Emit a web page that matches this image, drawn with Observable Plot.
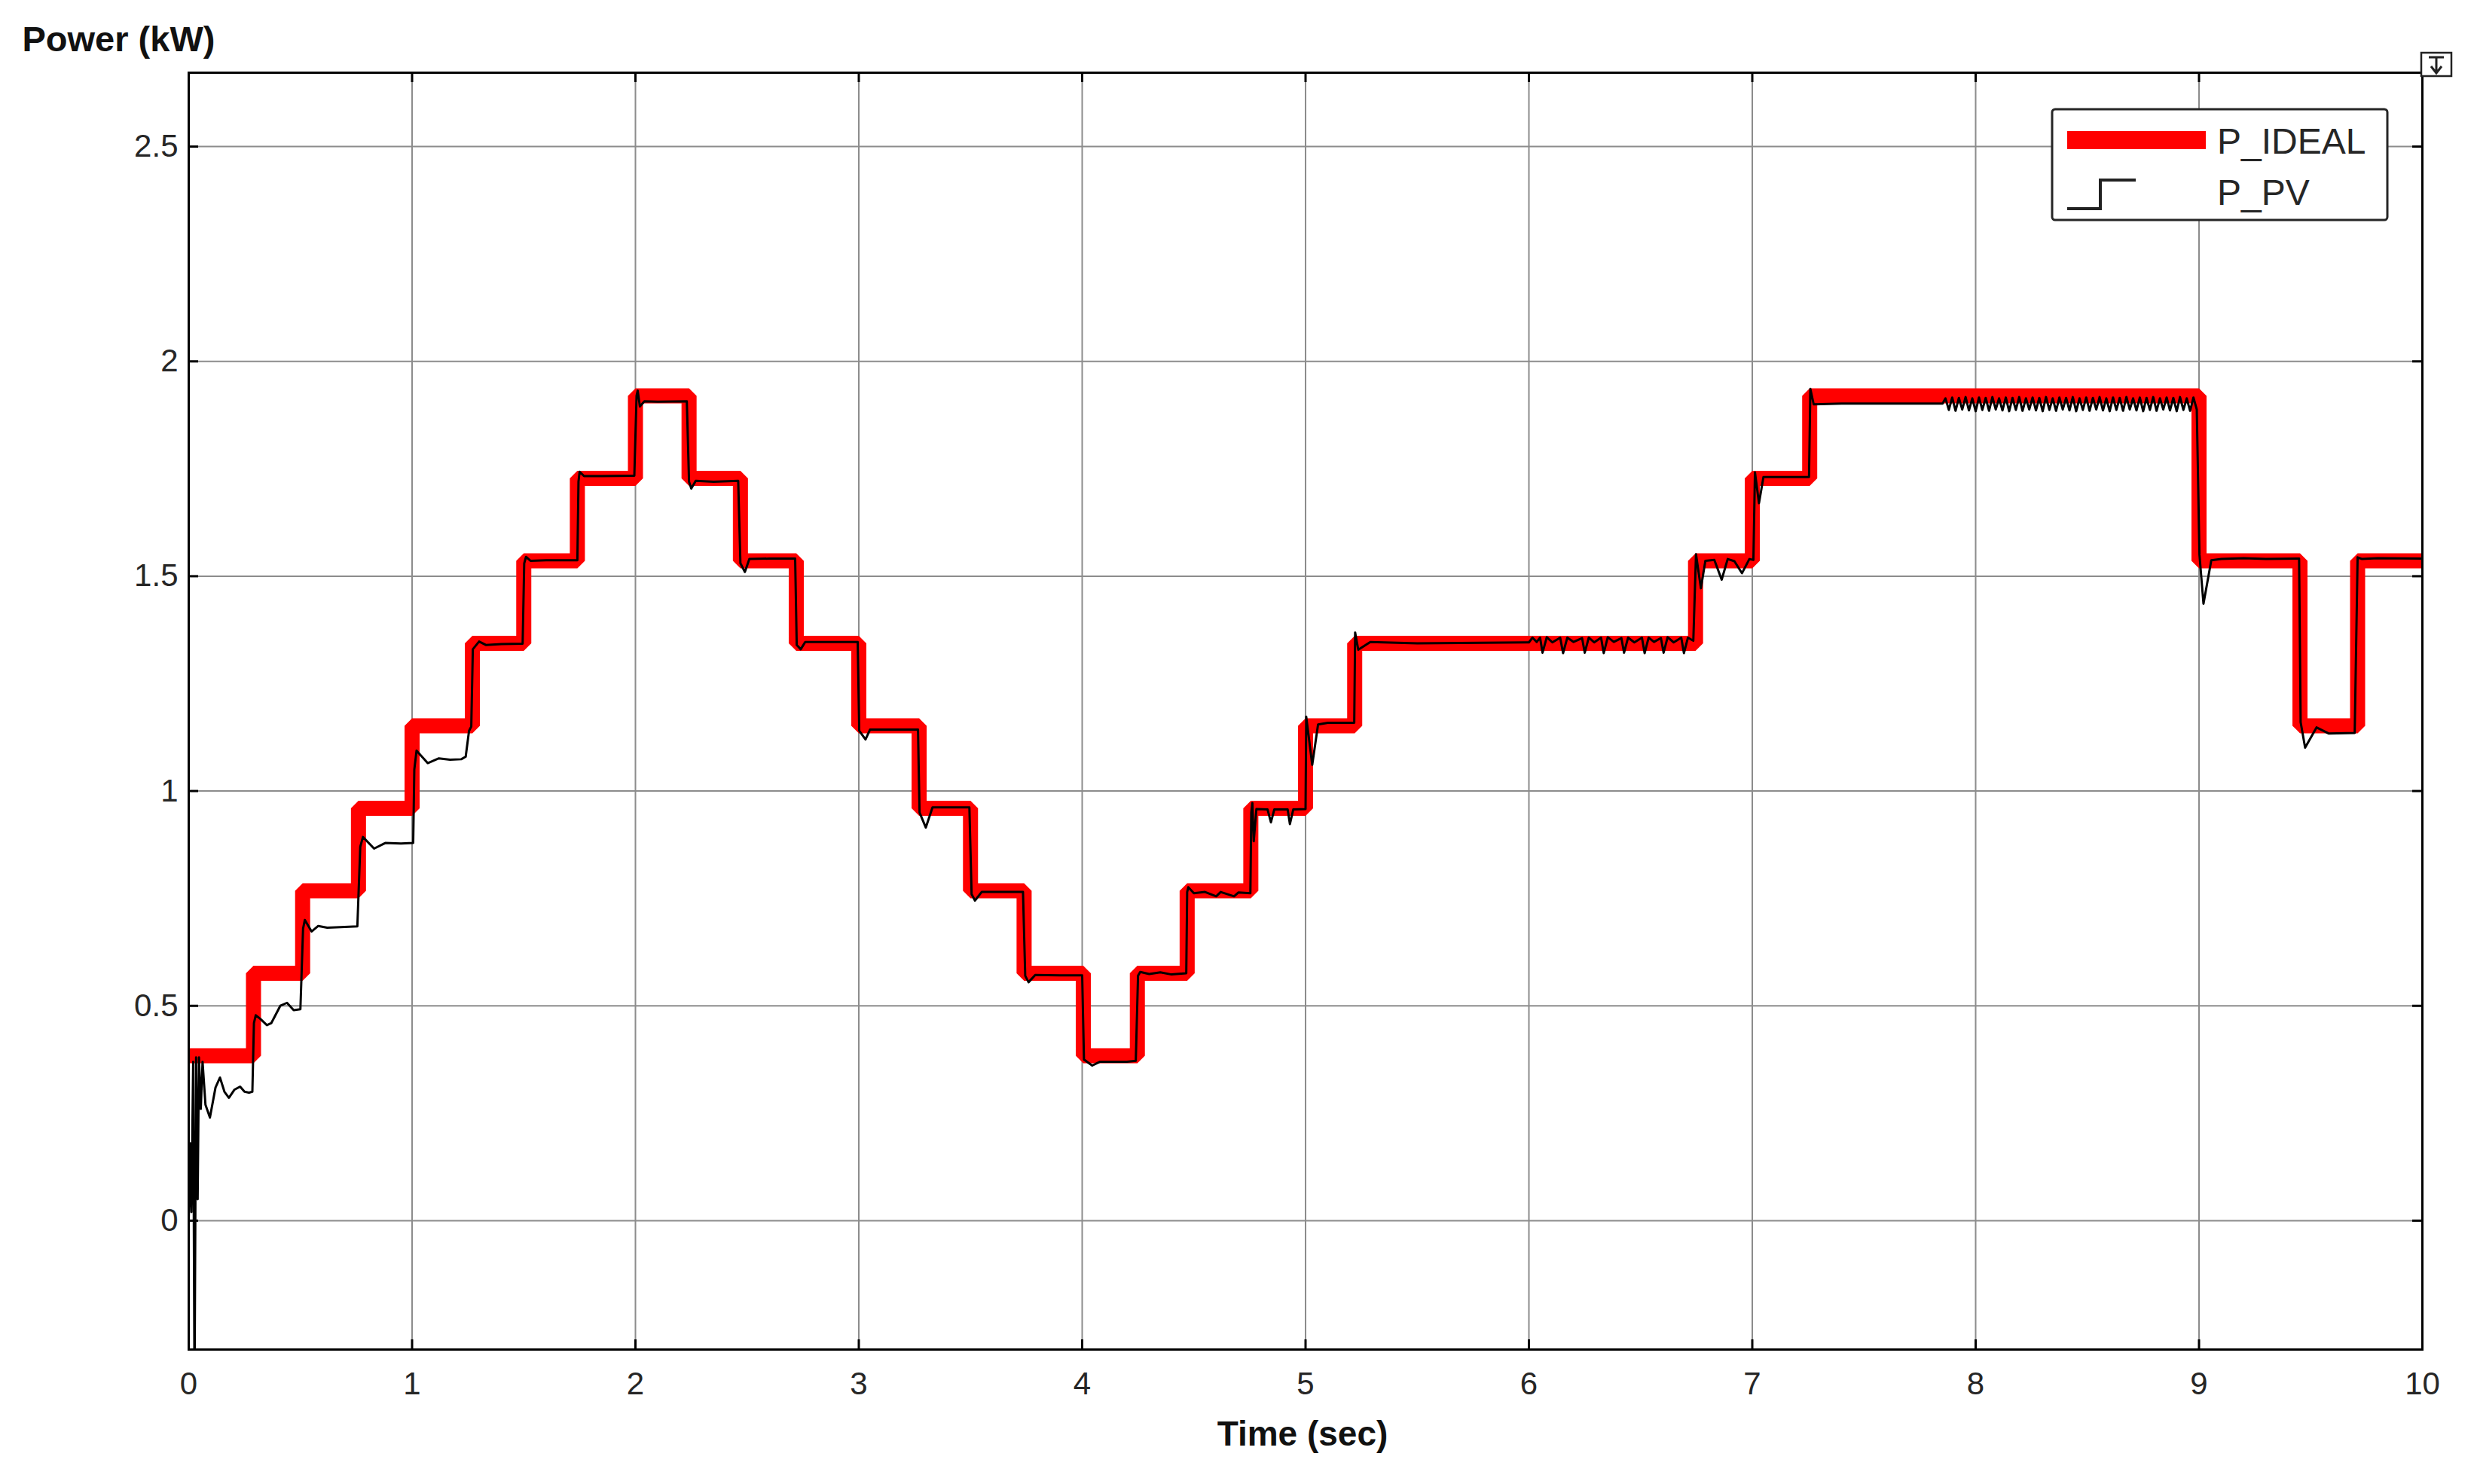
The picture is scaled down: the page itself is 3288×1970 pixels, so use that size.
<!DOCTYPE html>
<html>
<head>
<meta charset="utf-8">
<script src="https://cdn.jsdelivr.net/npm/d3@7"></script>
<script src="https://cdn.jsdelivr.net/npm/@observablehq/plot@0.6"></script>
<style>
html, body { margin: 0; padding: 0; background: #ffffff; }
#chart { width: 3288px; height: 1970px; }
</style>
</head>
<body>
<div id="chart"></div>
<script>
// ---- tick values / labels ----
const xTicks = [0, 1, 2, 3, 4, 5, 6, 7, 8, 9, 10];
const yTicks = [0, 0.5, 1, 1.5, 2, 2.5];
const yTickLabels = ["0", "0.5", "1", "1.5", "2", "2.5"];
const xDomain = [0, 10];
const yDomain = [-0.3, 2.672];

// ---- P_IDEAL : step levels (kW) and the times (s) at which they start ----
const idealTime = [0, 0.29, 0.51, 0.76, 1.0, 1.27, 1.5, 1.74, 2.0, 2.24, 2.47, 2.72, 3.0, 3.27, 3.5, 3.74,
  4.005, 4.247, 4.47, 4.755, 5.0, 5.22, 6.746, 7.0, 7.257, 9.0, 9.452, 9.71, 10];
const idealPower = [0.384, 0.576, 0.768, 0.96, 1.152, 1.344, 1.536, 1.728, 1.92, 1.728, 1.536, 1.344, 1.152, 0.96, 0.768, 0.576,
  0.384, 0.576, 0.768, 0.96, 1.152, 1.344, 1.536, 1.728, 1.92, 1.536, 1.152, 1.536, 1.536];

// ---- P_PV : samples [time (s), power (kW)] ----
const pvSamples = [
  [0.000, 0.00], [0.008, 0.18], [0.012, 0.02], [0.020, 0.37], [0.026, -0.40], [0.033, 0.38], [0.040, 0.05],
  [0.046, 0.38], [0.054, 0.26], [0.062, 0.37], [0.075, 0.27], [0.095, 0.24], [0.120, 0.31], [0.140, 0.333],
  [0.160, 0.300], [0.180, 0.286], [0.205, 0.305], [0.230, 0.312], [0.250, 0.300], [0.270, 0.298], [0.285, 0.300],
  [0.292, 0.46], [0.300, 0.478], [0.320, 0.470], [0.350, 0.455], [0.370, 0.460], [0.410, 0.500], [0.440, 0.507],
  [0.470, 0.490], [0.500, 0.492],
  [0.512, 0.68], [0.520, 0.700], [0.550, 0.673], [0.580, 0.686], [0.620, 0.682], [0.680, 0.683], [0.755, 0.685],
  [0.768, 0.87], [0.780, 0.893], [0.830, 0.866], [0.880, 0.879], [0.950, 0.878], [1.005, 0.879],
  [1.010, 1.05], [1.020, 1.094], [1.070, 1.065], [1.120, 1.076], [1.170, 1.073], [1.220, 1.074], [1.240, 1.080],
  [1.255, 1.140], [1.265, 1.150],
  [1.272, 1.33], [1.300, 1.348], [1.330, 1.340], [1.400, 1.342], [1.495, 1.343],
  [1.502, 1.53], [1.510, 1.545], [1.530, 1.536], [1.600, 1.537], [1.740, 1.537],
  [1.745, 1.72], [1.750, 1.743], [1.770, 1.733], [1.850, 1.733], [1.995, 1.734],
  [2.005, 1.92], [2.010, 1.932], [2.020, 1.895], [2.040, 1.907], [2.100, 1.906], [2.230, 1.907],
  [2.240, 1.72], [2.250, 1.704], [2.270, 1.722], [2.350, 1.720], [2.460, 1.722],
  [2.470, 1.53], [2.490, 1.510], [2.510, 1.540], [2.600, 1.541], [2.715, 1.541],
  [2.722, 1.34], [2.740, 1.330], [2.760, 1.347], [2.900, 1.347], [2.995, 1.347],
  [3.002, 1.14], [3.030, 1.120], [3.050, 1.143], [3.150, 1.143], [3.265, 1.143],
  [3.272, 0.95], [3.300, 0.915], [3.330, 0.962], [3.400, 0.962], [3.495, 0.962],
  [3.505, 0.76], [3.520, 0.745], [3.550, 0.765], [3.650, 0.765], [3.735, 0.765],
  [3.745, 0.57], [3.760, 0.555], [3.790, 0.572], [3.900, 0.571], [4.000, 0.571],
  [4.008, 0.375], [4.045, 0.361], [4.080, 0.370], [4.200, 0.370], [4.240, 0.372],
  [4.250, 0.57], [4.260, 0.579], [4.300, 0.574], [4.350, 0.578], [4.400, 0.573], [4.466, 0.576],
  [4.470, 0.765], [4.475, 0.776], [4.500, 0.762], [4.550, 0.765], [4.600, 0.755], [4.620, 0.765], [4.680, 0.755],
  [4.700, 0.764], [4.753, 0.762],
  [4.757, 0.95], [4.762, 0.972], [4.768, 0.883], [4.780, 0.958], [4.830, 0.957], [4.845, 0.927], [4.860, 0.957],
  [4.920, 0.957], [4.930, 0.923], [4.945, 0.957], [5.000, 0.958],
  [5.003, 1.173], [5.030, 1.061], [5.056, 1.155], [5.100, 1.159], [5.218, 1.159],
  [5.222, 1.369], [5.236, 1.329], [5.290, 1.347], [5.500, 1.344], [5.990, 1.346],
  [6.000, 1.346], [6.016, 1.357], [6.035, 1.347], [6.050, 1.357], [6.061, 1.322],
  [6.080, 1.358], [6.105, 1.346], [6.140, 1.357], [6.153, 1.321],
  [6.172, 1.357], [6.200, 1.347], [6.238, 1.356], [6.250, 1.322],
  [6.268, 1.357], [6.292, 1.346], [6.323, 1.357], [6.335, 1.321],
  [6.353, 1.358], [6.380, 1.347], [6.414, 1.356], [6.426, 1.322],
  [6.444, 1.357], [6.472, 1.346], [6.506, 1.357], [6.518, 1.321],
  [6.536, 1.357], [6.560, 1.347], [6.591, 1.356], [6.603, 1.322],
  [6.621, 1.358], [6.648, 1.346], [6.682, 1.357], [6.694, 1.321],
  [6.712, 1.357], [6.736, 1.350],
  [6.748, 1.551], [6.770, 1.472], [6.790, 1.536], [6.830, 1.538], [6.863, 1.492], [6.890, 1.540], [6.920, 1.535],
  [6.954, 1.507], [6.987, 1.540], [7.005, 1.538],
  [7.012, 1.742], [7.030, 1.670], [7.050, 1.731], [7.150, 1.731], [7.254, 1.731],
  [7.260, 1.936], [7.275, 1.900], [7.400, 1.902], [7.600, 1.902], [7.852, 1.902],
  [7.865, 1.914], [7.880, 1.887], [7.895, 1.916], [7.910, 1.885], [7.925, 1.915], [7.940, 1.888], [7.955, 1.917],
  [7.970, 1.886], [7.985, 1.914], [8.000, 1.884], [8.015, 1.916], [8.030, 1.887], [8.045, 1.915], [8.060, 1.885],
  [8.075, 1.917], [8.090, 1.888], [8.105, 1.914], [8.120, 1.886], [8.135, 1.916], [8.150, 1.884], [8.165, 1.915],
  [8.180, 1.887], [8.195, 1.917], [8.210, 1.885], [8.225, 1.914], [8.240, 1.888], [8.255, 1.916], [8.270, 1.886],
  [8.285, 1.915], [8.300, 1.884], [8.315, 1.917], [8.330, 1.887], [8.345, 1.914], [8.360, 1.885], [8.375, 1.916],
  [8.390, 1.888], [8.405, 1.915], [8.420, 1.886], [8.435, 1.917], [8.450, 1.884], [8.465, 1.914], [8.480, 1.887],
  [8.495, 1.916], [8.510, 1.885], [8.525, 1.915], [8.540, 1.888], [8.555, 1.917], [8.570, 1.886], [8.585, 1.914],
  [8.600, 1.884], [8.615, 1.916], [8.630, 1.887], [8.645, 1.915], [8.660, 1.885], [8.675, 1.917], [8.690, 1.888],
  [8.705, 1.914], [8.720, 1.886], [8.735, 1.916], [8.750, 1.884], [8.765, 1.915], [8.780, 1.887], [8.795, 1.917],
  [8.810, 1.885], [8.825, 1.914], [8.840, 1.888], [8.855, 1.916], [8.870, 1.886], [8.885, 1.915], [8.900, 1.884],
  [8.915, 1.917], [8.930, 1.887], [8.945, 1.914], [8.960, 1.885], [8.975, 1.916], [8.990, 1.888],
  [9.002, 1.55], [9.020, 1.436], [9.055, 1.537], [9.100, 1.540], [9.200, 1.542], [9.300, 1.540], [9.448, 1.541],
  [9.455, 1.16], [9.475, 1.101], [9.526, 1.148], [9.580, 1.134], [9.697, 1.135],
  [9.710, 1.544], [9.730, 1.540], [9.800, 1.542], [10.000, 1.541]
];

// ---- text ----
const yTitle = "Power (kW)";
const xTitle = "Time (sec)";
const legendNames = ["P_IDEAL", "P_PV"];

// ---- build tables ----
const ideal = idealTime.map((t, i) => ({t, p: idealPower[i]}));
const pv = pvSamples.map(([t, p]) => ({t, p}));

const W = 3288, H = 1970;
const mTop = 96, mBottom = 179, mLeft = 250, mRight = 73;
const innerH = H - mTop - mBottom;
const innerW = W - mLeft - mRight;
const tick = 13;
const font = "'Liberation Sans', Arial, Helvetica, sans-serif";
const gridColor = "#8c8c8c";

const chart = Plot.plot({
  width: W,
  height: H,
  marginTop: mTop,
  marginBottom: mBottom,
  marginLeft: mLeft,
  marginRight: mRight,
  style: {background: "#ffffff", fontFamily: font, color: "#262626"},
  x: {domain: xDomain, axis: null},
  y: {domain: yDomain, axis: null},
  marks: [
    Plot.gridX(xTicks, {stroke: gridColor, strokeOpacity: 1, strokeWidth: 2}),
    Plot.gridY(yTicks, {stroke: gridColor, strokeOpacity: 1, strokeWidth: 2}),
    Plot.line(ideal, {x: "t", y: "p", curve: "step-after", stroke: "#ff0000", strokeWidth: 20,
      strokeLinejoin: "miter", strokeLinecap: "butt", clip: true}),
    Plot.line(pv, {x: "t", y: "p", stroke: "#000000", strokeWidth: 3, strokeLinejoin: "round", clip: true}),
    // inward tick marks on all four sides
    Plot.ruleX(xTicks, {x: d => d, insetTop: innerH - tick, stroke: "#000", strokeWidth: 3}),
    Plot.ruleX(xTicks, {x: d => d, insetBottom: innerH - tick, stroke: "#000", strokeWidth: 3}),
    Plot.ruleY(yTicks, {y: d => d, insetRight: innerW - tick, stroke: "#000", strokeWidth: 3}),
    Plot.ruleY(yTicks, {y: d => d, insetLeft: innerW - tick, stroke: "#000", strokeWidth: 3}),
    Plot.frame({stroke: "#000", strokeWidth: 3}),
    Plot.axisX(xTicks, {tickSize: 0, tickPadding: 30, fontSize: 42, fill: "#262626", label: null,
      tickFormat: d => String(d)}),
    Plot.axisY(yTicks, {tickSize: 0, tickPadding: 14, fontSize: 42, fill: "#262626", label: null,
      tickFormat: d => yTickLabels[yTicks.indexOf(d)]}),
    Plot.text([yTitle], {frameAnchor: "top-left", lineAnchor: "middle", dx: -221, dy: -44, textAnchor: "start",
      fontSize: 47, fontWeight: "bold", fill: "#111", fontFamily: font}),
    Plot.text([xTitle], {frameAnchor: "bottom", lineAnchor: "middle", dx: -4, dy: 113, fontSize: 46,
      fontWeight: "bold", fill: "#111", fontFamily: font})
  ]
});

// ---- legend box (inside the axes, upper right) and the toolbar glyph ----
const svg = d3.select(chart);
const lg = svg.append("g").attr("font-family", font).attr("text-anchor", "start");
lg.append("rect").attr("x", 2724).attr("y", 145).attr("width", 445).attr("height", 147)
  .attr("rx", 4).attr("fill", "#ffffff").attr("stroke", "#262626").attr("stroke-width", 3);
lg.append("line").attr("x1", 2744).attr("x2", 2928).attr("y1", 186).attr("y2", 186)
  .attr("stroke", "#ff0000").attr("stroke-width", 24);
lg.append("path").attr("d", "M2744,277H2788V239H2835").attr("fill", "none")
  .attr("stroke", "#222").attr("stroke-width", 4);
lg.append("text").attr("x", 2943).attr("y", 191).attr("dominant-baseline", "middle")
  .attr("text-anchor", "start").attr("font-size", 48).attr("fill", "#262626").text(legendNames[0]);
lg.append("text").attr("x", 2943).attr("y", 259).attr("dominant-baseline", "middle")
  .attr("text-anchor", "start").attr("font-size", 48).attr("fill", "#262626").text(legendNames[1]);

const ic = svg.append("g");
ic.append("rect").attr("x", 3214).attr("y", 70).attr("width", 40).attr("height", 31)
  .attr("fill", "#ffffff").attr("stroke", "#222").attr("stroke-width", 2.5);
ic.append("path").attr("d", "M3224,76H3244M3234,76V96M3227,88L3234,97L3241,88")
  .attr("fill", "none").attr("stroke", "#222").attr("stroke-width", 3);

document.getElementById("chart").appendChild(chart);
</script>
</body>
</html>
